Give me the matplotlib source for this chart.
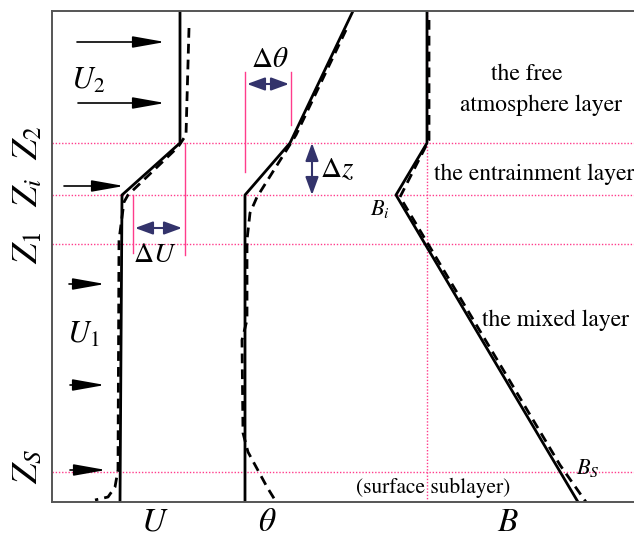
import numpy as np
import matplotlib
matplotlib.use("Agg")
import matplotlib.pyplot as plt

plt.rcParams['font.family'] = ['STIXGeneral', 'DejaVu Serif']
plt.rcParams['mathtext.fontset'] = 'stix'

# heights of the layer tops (schematic units, 0 = ground)
z_s, z_1, z_i, z_2, z_top = 30, 258, 307, 359, 491

# wind speed profile U
u_z = [491, 359, 307, 0]
u_solid = [128, 128, 70, 68]
ud_z = [474, 367, 355, 307, 300, 262, 32, 15, 5, 2]
u_dash = [137, 134, 126, 76, 72, 67, 66, 63, 56, 43]

# potential temperature profile theta
th_z = [0, 307, 359, 491]
th_solid = [193, 193, 238, 301]
thd_z = [472, 367, 305, 289, 262, 182, 162, 69, 50, 15, 2]
th_dash = [294, 244, 205, 198, 195, 195, 190, 191, 196, 215, 223]

# buoyancy profile B
b_z = [491, 359, 307, 0]
b_solid = [375, 375, 344, 526]
bd_z = [482, 362, 305, 37, 0]
b_dash = [377, 377, 348, 508, 534]
b_ref = 375

# wind arrows: (x start, x end, height)
wind_arrows = [(25, 113, 460), (26, 113, 399), (12, 72, 316),
               (17, 53, 218), (18, 53, 117), (18, 54, 32)]

pink = '#ff3c8c'
navy = '#33336b'

fig = plt.figure(figsize=(6.34, 5.41), dpi=100)
ax = fig.add_axes([52/634, 39/541, 582/634, 491/541])
ax.set_xlim(0, 582)
ax.set_ylim(0, 491)
for s in ['left', 'bottom', 'top']:
    ax.spines[s].set_color('#555555')
    ax.spines[s].set_linewidth(1.4)
ax.spines['right'].set_visible(False)
ax.set_xticks([])
ax.set_yticks([])

# layer boundaries
for z in [z_s, z_1, z_i, z_2]:
    ax.axhline(z, color=pink, lw=1, ls=(0, (1, 1.3)))
ax.axvline(b_ref, color=pink, lw=1, ls=(0, (1, 1.3)))

# profiles
ax.plot(u_solid, u_z, color='black', lw=2)
ax.plot(u_dash, ud_z, color='black', lw=2, dashes=(3.5, 2.2))
ax.plot(th_solid, th_z, color='black', lw=2)
ax.plot(th_dash, thd_z, color='black', lw=2, dashes=(3.5, 2.2))
ax.plot(b_solid, b_z, color='black', lw=2)
ax.plot(b_dash, bd_z, color='black', lw=2, dashes=(3.5, 2.2))

# jump markers
ax.plot([81, 81], [249, z_i], color=pink, lw=1)
ax.plot([133, 133], [247, z_2], color=pink, lw=1)
ax.plot([193, 193], [330, 430], color=pink, lw=1)
ax.plot([239, 239], [377, 430], color=pink, lw=1)

dbl = dict(arrowstyle='<|-|>,head_length=0.6,head_width=0.22', color=navy,
           lw=1.5, mutation_scale=18, shrinkA=0, shrinkB=0)
ax.annotate('', xy=(130, 274), xytext=(83, 274), arrowprops=dbl)
ax.annotate('', xy=(237, 418), xytext=(195, 418), arrowprops=dbl)
ax.annotate('', xy=(260, z_2), xytext=(260, z_i), arrowprops=dbl)

arr = dict(arrowstyle='-|>,head_length=0.9,head_width=0.16', color='black',
           lw=1.2, mutation_scale=22, shrinkA=0, shrinkB=0)
for x0, x1, z in wind_arrows:
    ax.annotate('', xy=(x1, z), xytext=(x0, z), arrowprops=arr)

# labels
ax.text(36, 421, r'$U_2$', fontsize=22, ha='center', va='center')
ax.text(31, 167, r'$U_1$', fontsize=22, ha='center', va='center')
ax.text(103, 247, r'$\Delta U$', fontsize=20, ha='center', va='center')
ax.text(218, 442, r'$\Delta\theta$', fontsize=21, ha='center', va='center')
ax.text(285, 332, r'$\Delta z$', fontsize=21, ha='center', va='center')
ax.text(328, 293, r'$B_i$', fontsize=16, ha='center', va='center')
ax.text(536, 34, r'$B_S$', fontsize=16, ha='center', va='center')

ax.text(475, 428, 'the free', fontsize=17, ha='center', va='center')
ax.text(489, 397, 'atmosphere layer', fontsize=17, ha='center', va='center')
ax.text(482, 328, 'the entrainment layer', fontsize=17, ha='center', va='center')
ax.text(504, 182, 'the mixed layer', fontsize=17, ha='center', va='center')
ax.text(381, 14, '(surface sublayer)', fontsize=15.5, ha='center', va='center')

for txt, x in [(r'$U$', 103), (r'$\theta$', 215), (r'$B$', 456)]:
    ax.text(x, -21, txt, fontsize=24, ha='center', va='center', clip_on=False)

for txt, z in [(r'$Z_2$', z_2), (r'$Z_i$', z_i + 2), (r'$Z_1$', z_1 - 4), (r'$Z_S$', z_s + 6)]:
    ax.text(-23, z, txt, fontsize=26, rotation=90, ha='center', va='center',
            clip_on=False)

fig.savefig('out.png', dpi=100)
